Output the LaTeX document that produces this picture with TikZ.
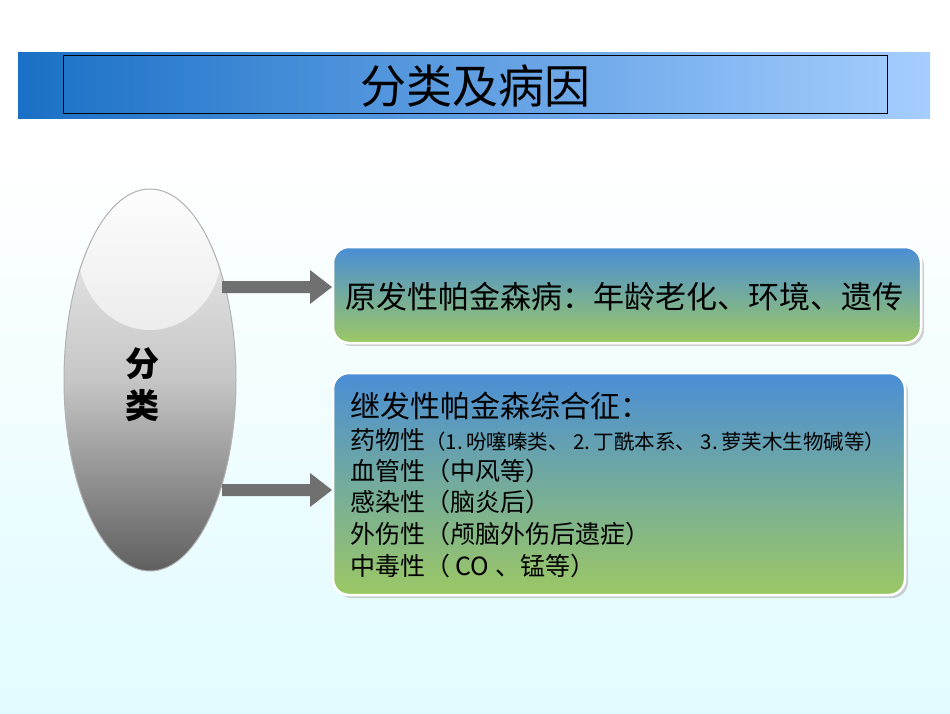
\documentclass[tikz,border=0pt]{standalone}
\usepackage{fontspec}
\setmainfont{Noto Sans CJK SC}
\usetikzlibrary{shapes.geometric,shadows}
\definecolor{boxtop}{HTML}{4A8ED6}
\definecolor{boxbot}{HTML}{9CC864}
\definecolor{arrowgray}{HTML}{707070}
\tikzset{
  infobox/.style={draw=white,line width=2.5pt,rounded corners=16pt,top color=boxtop,bottom color=boxbot,
     drop shadow={shadow xshift=3pt,shadow yshift=-3pt,fill=gray!70}},
  grayarrow/.style={fill=arrowgray,draw=none},
  line/.style={anchor=west,font=\fontsize{25}{25}\selectfont,inner sep=0pt}
}
\begin{document}
\begin{tikzpicture}[x=1pt,y=-1pt]
\useasboundingbox (0,0) rectangle (950,713);
\shade[top color=white,bottom color=white] (0,0) rectangle (950,160);
\shade[top color=white,bottom color=blue!12!cyan!12] (0,160) rectangle (950,713);
% banner
\shade[left color=blue!50!cyan!75!black!90,right color=cyan!45!blue!35] (18,52) rectangle (930,118);
\draw[line width=0.6pt] (63,55) rectangle (887,113);
\node (title) at (475,86) {\fontsize{46}{46}\selectfont 分类及病因};
% ellipse
\node[ellipse,minimum width=172pt,minimum height=382pt,draw=gray!60,line width=1pt,top color=gray!10,bottom color=gray!75!black,middle color=gray!45] (cls) at (150,380) {};
\begin{scope}
\clip (150,380) ellipse (85 and 190);
\shade[top color=white,bottom color=gray!15] (150,250) ellipse (72 and 80);
\end{scope}
\node[align=center,font=\fontsize{34}{42}\selectfont\bfseries] (clstxt) at (142,385) {分\\类};
% boxes
\node[infobox,minimum width=588pt,minimum height=96pt] (b1) at (627,295) {};
\node[line,font=\fontsize{31}{31}\selectfont] (t1) at (345,297) {原发性帕金森病：年龄老化、环境、遗传};
\node[infobox,minimum width=572pt,minimum height=222pt] (b2) at (619,484) {};
\node[line,font=\fontsize{30}{30}\selectfont] (t2) at (350,406) {继发性帕金森综合征：};
\node[line] (t3) at (350,440) {药物性{\fontsize{20.5}{20}\selectfont（1.\,吩噻嗪类、 2.\,丁酰本系、 3.\,萝芙木生物碱等）}};
\node[line] (t4) at (350,471) {血管性（中风等）};
\node[line] (t5) at (350,502) {感染性（脑炎后）};
\node[line] (t6) at (350,534) {外伤性（颅脑外伤后遗症）};
\node[line] (t7) at (350,566) {中毒性（ CO 、锰等）};
% arrows
\foreach \y/\n in {287/a1,490/a2}{
  \fill[grayarrow] (222,\y-6) -- (310,\y-6) -- (310,\y-17) -- (332,\y) -- (310,\y+17) -- (310,\y+6) -- (222,\y+6) -- cycle;
  \coordinate (\n) at (222,\y);
}
\end{tikzpicture}
\end{document}
